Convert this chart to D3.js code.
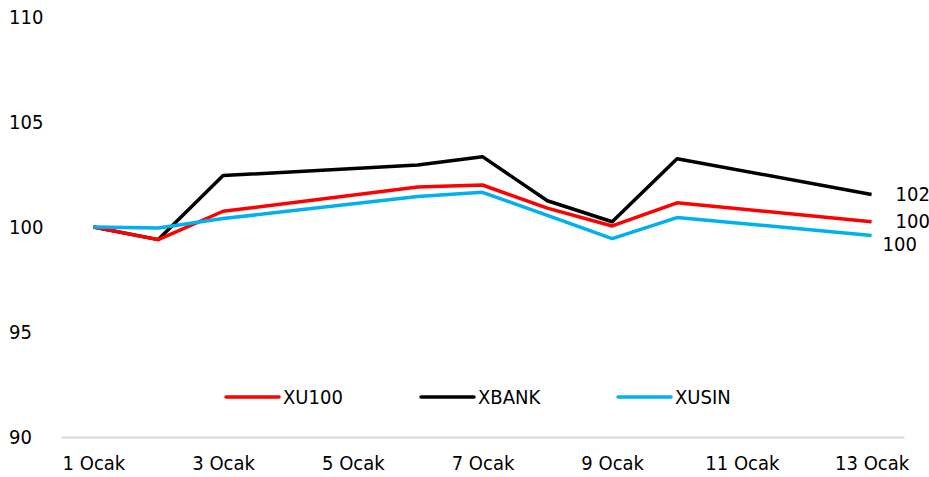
<!DOCTYPE html>
<html lang="tr">
<head>
  <meta charset="UTF-8">
  <title>XU100 / XBANK / XUSIN</title>
  <style>
    body { margin: 0; background: #fff; }
    svg { display: block; font-family: "DejaVu Sans Condensed", "DejaVu Sans", sans-serif; }
    text { fill: #000; font-size: 20px; }
  </style>
  <script src="https://d3js.org/d3.v7.min.js"></script>
</head>
<body>
  <svg id="chart" width="929" height="477"></svg>
  <script>
    // Ocak (January) days with data
    const days = [1, 2, 3, 6, 7, 8, 9, 10, 13];
    const xu100 = [100, 99.4, 100.75, 101.9, 102.0, 100.9, 100.05, 101.15, 100.25];
    const xbank = [100, 99.4, 102.45, 102.95, 103.35, 101.25, 100.25, 103.25, 101.55];
    const xusin = [100, 99.95, 100.4, 101.45, 101.65, 100.55, 99.45, 100.45, 99.6];
    const xTicks = [1, 3, 5, 7, 9, 11, 13];
    const yTicks = [90, 95, 100, 105, 110];
    const endLabels = ['102', '100', '100'];

    const series = [
      { name: 'XU100', values: xu100, color: '#ff0000', labelDx: 24, labelDy: -1 },
      { name: 'XBANK', values: xbank, color: '#000000', labelDx: 24, labelDy: 0 },
      { name: 'XUSIN', values: xusin, color: '#00b0f0', labelDx: 11, labelDy: 9 }
    ];
    series[0].label = endLabels[1];
    series[1].label = endLabels[0];
    series[2].label = endLabels[2];

    const svg = d3.select('#chart');
    const x = d3.scaleLinear().domain([0.5, 13.5]).range([61, 904]);
    const y = d3.scaleLinear().domain([90, 110]).range([437, 17]);

    // y labels (left aligned, no gridlines)
    svg.append('g')
      .selectAll('text')
      .data(yTicks)
      .join('text')
      .attr('x', 9)
      .attr('y', d => y(d))
      .attr('dy', '0.35em')
      .text(d => d);

    // x axis
    const xAxis = svg.append('g')
      .attr('transform', `translate(0,${y(90)})`)
      .call(d3.axisBottom(x).tickValues(xTicks).tickSize(0).tickFormat(d => d + ' Ocak'));
    xAxis.select('.domain').attr('stroke', '#d9d9d9').attr('stroke-width', 2);
    xAxis.selectAll('text')
      .attr('y', 19)
      .attr('dy', '0.71em')
      .style('font-size', '20px')
      .style('fill', '#000');
    xAxis.attr('font-family', null).attr('font-size', null);

    const line = d3.line()
      .x((d, i) => x(days[i]))
      .y(d => y(d));

    // draw black first, then red, then blue on top
    const drawOrder = [series[1], series[0], series[2]];
    svg.append('g')
      .selectAll('path')
      .data(drawOrder)
      .join('path')
      .attr('fill', 'none')
      .attr('stroke', d => d.color)
      .attr('stroke-width', 3.5)
      .attr('stroke-linejoin', 'round')
      .attr('d', d => line(d.values));

    // end labels
    svg.append('g')
      .selectAll('text')
      .data(series)
      .join('text')
      .attr('x', d => x(days[days.length - 1]) + d.labelDx)
      .attr('y', d => y(d.values[d.values.length - 1]) + d.labelDy)
      .attr('dy', '0.35em')
      .text(d => d.label);

    // legend
    const legendX = [226, 421, 618];
    const legend = svg.append('g')
      .selectAll('g')
      .data(series)
      .join('g')
      .attr('transform', (d, i) => `translate(${legendX[i]},397)`);
    legend.append('line')
      .attr('x1', 0).attr('x2', 53)
      .attr('stroke', d => d.color)
      .attr('stroke-width', 3.5)
      .attr('stroke-linecap', 'round');
    legend.append('text')
      .attr('x', 57)
      .attr('dy', '0.35em')
      .text(d => d.name);
  </script>
</body>
</html>
